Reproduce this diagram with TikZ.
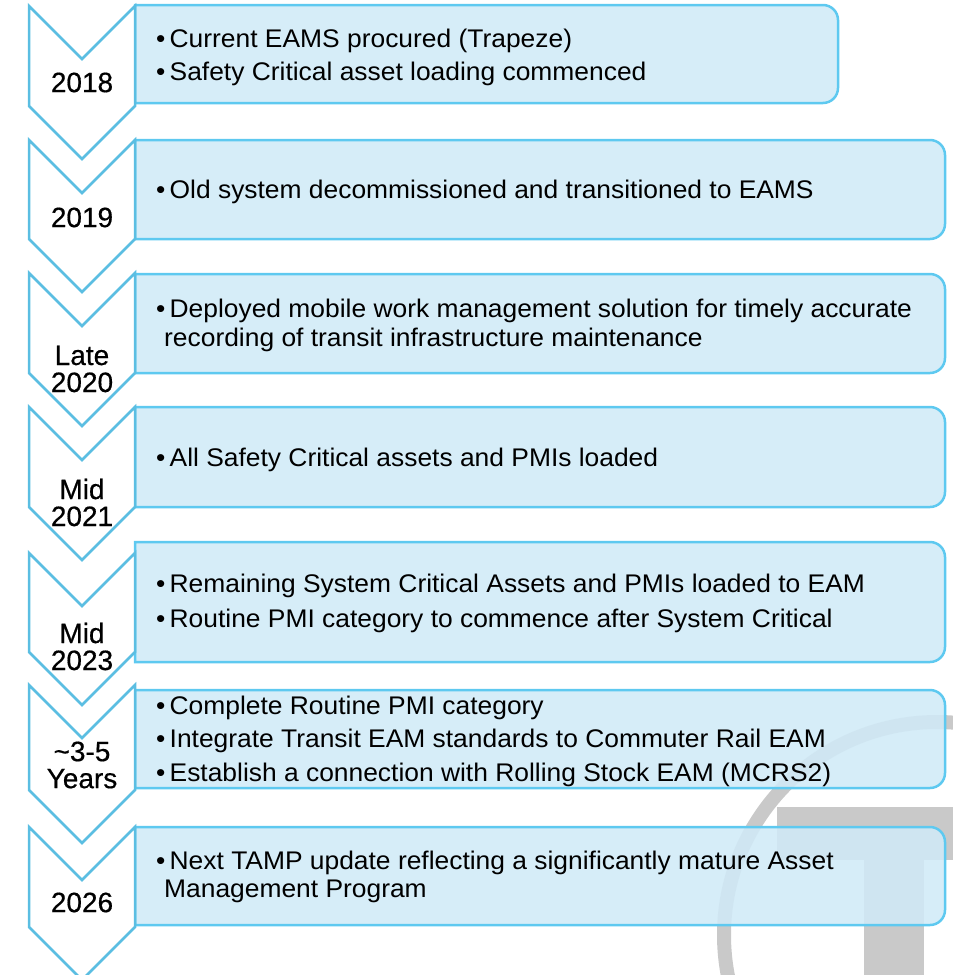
\documentclass[tikz,border=0pt]{standalone}
\usepackage{fontspec}
\setmainfont{Liberation Sans}
\newfontfamily\itemfont[FakeStretch=1.035]{Liberation Sans}
\newfontfamily\yearfont[FakeBold=0.5]{Liberation Sans}
\definecolor{boxfill}{RGB}{208,234,247}
\definecolor{boxedge}{RGB}{94,201,240}
\definecolor{chevedge}{RGB}{91,190,226}
\definecolor{logogray}{RGB}{201,201,201}
\tikzset{
  chev/.style={draw=chevedge, line width=2.5pt, fill=white, line join=miter},
  panel/.style={draw=boxedge, line width=2.5pt, fill=boxfill, fill opacity=0.87},
  itemtxt/.style={inner sep=0pt, anchor=west, align=left, text=black,
    font=\itemfont\fontsize{25.5}{28.5}\selectfont},
  yeartxt/.style={inner sep=0pt, align=center, text=black,
    font=\yearfont\fontsize{28}{27}\selectfont},
}
% panel with square left corners and rounded right corners: top, bottom, right edge
\newcommand\panelpath[3]{%
  \draw[panel] (135,#1) -- ({#3-15},#1) arc[start angle=-90,end angle=0,radius=15]
    -- (#3,{#2-15}) arc[start angle=0,end angle=90,radius=15] -- (135,#2) -- cycle;}
\begin{document}
\begin{tikzpicture}[x=1pt,y=-1pt]
\useasboundingbox (0,0) rectangle (953,975);
\clip (0,0) rectangle (953,975);

% logo watermark: ring and T
\fill[logogray, even odd rule] (937,935) circle (220) circle (206);
\fill[logogray] (777,807) rectangle (960,860);
\fill[logogray] (864,860) rectangle (924,980);

% text panels
\panelpath{5}{103}{838}
\panelpath{140}{239}{945}
\panelpath{274}{373}{945}
\panelpath{407}{507}{945}
\panelpath{542}{662}{945}
\panelpath{690}{788}{945}
\panelpath{827}{925}{945}

% chevrons: top edge / bottom edge of the body
\foreach \t/\b in {6/106,140/239,273/373,407/507,553/652,685/790,827/927}{
  \draw[chev] (29,\t) -- (82,{\t+53}) -- (135,\t) -- (135,\b)
    -- (82,{\b+53}) -- (29,\b) -- cycle;
}

% year labels
\node[yeartxt] (y1) at (82,82.5) {2018};
\node[yeartxt] (y2) at (82,217.5) {2019};
\node[yeartxt] (y3) at (82,369) {Late\\2020};
\node[yeartxt] (y4) at (82,502.5) {Mid\\2021};
\node[yeartxt] (y5) at (82,646.5) {Mid\\2023};
\node[yeartxt] (y6) at (82,765) {\textasciitilde3-5\\Years};
\node[yeartxt] (y7) at (82,902.5) {2026};

% panel texts
\node[itemtxt] (t1) at (156,57) {\textbullet\,Current EAMS procured (Trapeze)\\[4.5pt]
  \textbullet\,Safety Critical asset loading commenced};
\node[itemtxt] (t2) at (156,192) {\textbullet\,Old system decommissioned and transitioned to EAMS};
\node[itemtxt] (t3) at (156,325.5) {\textbullet\,Deployed mobile work management solution for timely accurate\\
  \hspace{8pt}recording of transit infrastructure maintenance};
\node[itemtxt] (t4) at (156,459.5) {\textbullet\,All Safety Critical assets and PMIs loaded};
\node[itemtxt] (t5) at (156,603) {\textbullet\,Remaining System Critical Assets and PMIs loaded to EAM\\[6.5pt]
  \textbullet\,Routine PMI category to commence after System Critical};
\node[itemtxt] (t6) at (156,741) {\textbullet\,Complete Routine PMI category\\[5pt]
  \textbullet\,Integrate Transit EAM standards to Commuter Rail EAM\\[5pt]
  \textbullet\,Establish a connection with Rolling Stock EAM (MCRS2)};
\node[itemtxt] (t7) at (156,877) {\textbullet\,Next TAMP update reflecting a significantly mature Asset\\
  \hspace{8pt}Management Program};
\end{tikzpicture}
\end{document}
